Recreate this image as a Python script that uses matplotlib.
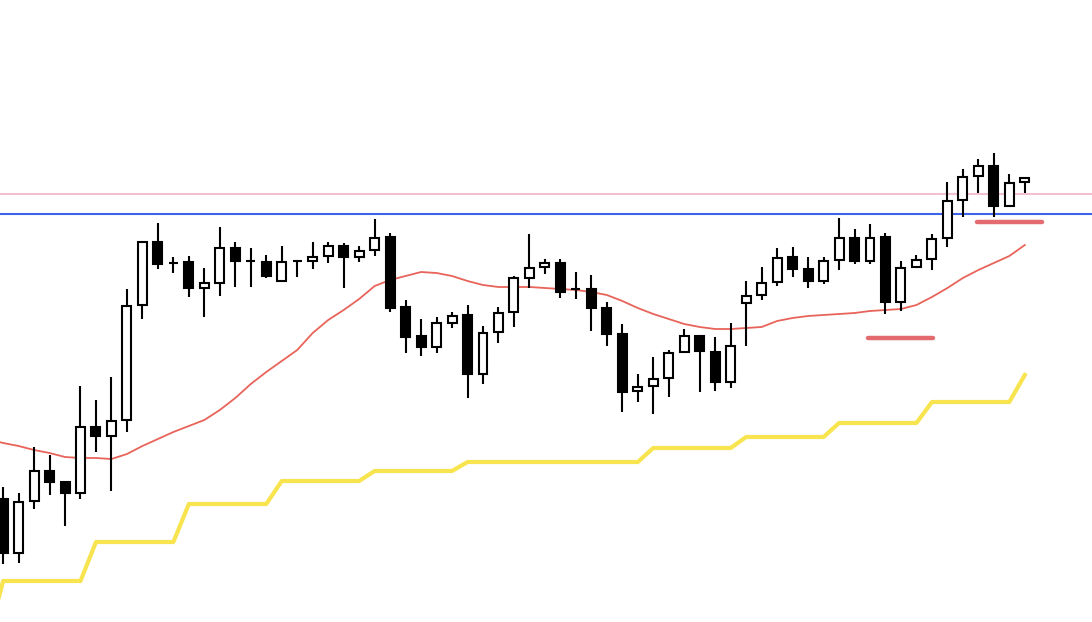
import numpy as np
import matplotlib
matplotlib.use("Agg")
import matplotlib.pyplot as plt
from matplotlib.patches import Rectangle

# candle OHLC (arbitrary price units)
opens = [123, 69, 121, 151, 140, 129, 195, 186, 202, 317, 380, 359, 360, 334, 339, 374, 361,
         360, 341, 361, 361, 366, 376, 365, 372, 385, 315, 286, 275, 299, 307, 248, 290, 310,
         344, 355, 359, 333, 333, 314, 288, 231, 236, 244, 270, 286, 270, 240, 319, 327, 340,
         365, 353, 341, 362, 384, 361, 385, 320, 355, 363, 384, 422, 446, 456, 416, 440]
highs = [135, 129, 175, 167, 140, 236, 222, 245, 333, 380, 399, 365, 366, 354, 395, 380, 374,
         367, 376, 361, 380, 380, 379, 376, 403, 389, 322, 303, 305, 310, 317, 296, 315, 346,
         388, 363, 363, 350, 347, 320, 298, 248, 265, 272, 293, 286, 285, 299, 341, 355, 374,
         375, 365, 365, 404, 393, 398, 389, 361, 367, 388, 440, 453, 463, 469, 448, 444]
lows = [58, 59, 113, 127, 96, 123, 170, 131, 190, 303, 353, 349, 325, 305, 326, 335, 335,
        344, 341, 345, 353, 359, 334, 360, 366, 310, 269, 266, 269, 294, 224, 238, 279, 295,
        334, 348, 324, 323, 291, 276, 210, 220, 208, 225, 270, 230, 231, 234, 276, 322, 336,
        345, 334, 338, 352, 358, 358, 308, 311, 354, 352, 375, 405, 429, 405, 416, 429]
closes = [69, 120, 151, 140, 129, 195, 186, 201, 316, 380, 358, 359, 334, 339, 374, 361, 361,
          346, 360, 361, 365, 376, 365, 371, 384, 314, 285, 275, 299, 306, 248, 289, 309, 344,
          354, 359, 330, 333, 314, 288, 230, 235, 243, 269, 286, 271, 240, 276, 326, 339, 364,
          353, 341, 361, 384, 361, 384, 320, 354, 362, 383, 421, 445, 456, 416, 439, 444]

# moving average and stepped stop line, first value belongs to the bar left of the view
ma = [183, 179, 176, 172, 169, 165, 164, 164, 163, 168, 176, 183, 190, 196, 202, 212, 224,
      238, 250, 261, 272, 289, 302, 312, 323, 336, 342, 346, 350, 349, 346, 341, 337, 335,
      335, 335, 334, 333, 332, 330, 327, 321, 314, 308, 303, 298, 295, 293, 293, 294, 295,
      301, 304, 306, 307, 308, 309, 311, 312, 313, 317, 325, 334, 344, 352, 359, 366, 377]
stop = [-19] + [41] * 6 + [80] * 6 + [118] * 6 + [141] * 6 + [151] * 6 + [160] * 12 \
       + [174] * 6 + [185] * 6 + [199] * 6 + [220] * 6 + [247]

# horizontal levels
resistance = 408.3
upper_level = 428.5
# short support marks: (level, first bar, last bar)
marks = [(284.3, 55.9, 60.1), (400.5, 62.9, 67.1)]

fig = plt.figure(figsize=(10.92, 6.22), dpi=100)
ax = fig.add_axes([0, 0, 1, 1])
ax.axis("off")

idx = np.arange(len(opens))
ext = np.arange(-1, len(opens))

ax.axhline(upper_level, color="#f0bfd0", lw=1.5, zorder=1)
ax.axhline(resistance, color="#3d63ea", lw=1.5, zorder=1)
ax.plot(ext, stop, color="#f7e44f", lw=3.0, zorder=2)
ax.plot(ext, ma, color="#e8645a", lw=1.3, zorder=2)
for lvl, a, b in marks:
    ax.plot([a, b], [lvl, lvl], color="#e36b6e", lw=3.2, solid_capstyle="round", zorder=2)

w = 0.58
for i, o, h, l, c in zip(idx, opens, highs, lows, closes):
    ax.vlines(i, l, h, color="black", lw=1.5, zorder=3)
    face = "white" if c >= o else "black"
    ax.add_patch(Rectangle((i - w / 2, min(o, c)), w, abs(c - o),
                           facecolor=face, edgecolor="black", lw=1.5, zorder=4))

ax.set_xlim(-0.2, 70.34)
ax.set_ylim(0, 622)

fig.savefig("out.png", dpi=100, facecolor="white")
